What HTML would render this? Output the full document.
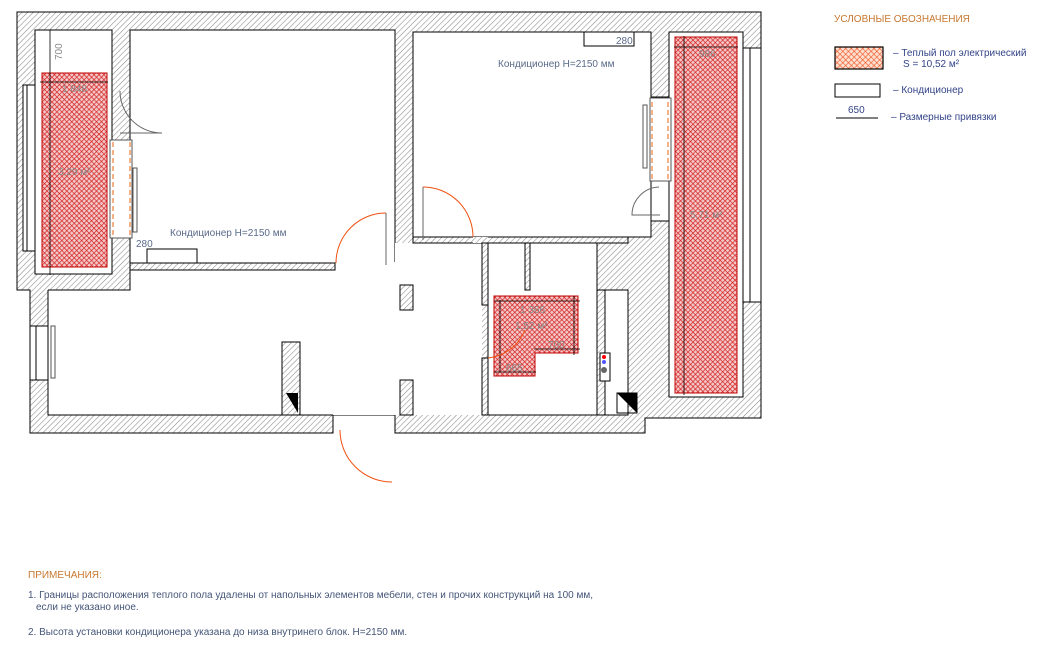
<!DOCTYPE html>
<html><head><meta charset="utf-8"><style>
html,body{margin:0;padding:0;background:#fff;}
svg{display:block;font-family:"Liberation Sans Narrow","Liberation Sans",sans-serif;}
</style></head><body>
<svg width="1050" height="648" viewBox="0 0 1050 648" xmlns="http://www.w3.org/2000/svg">
<defs>
<pattern id="h" width="4" height="4" patternUnits="userSpaceOnUse" patternTransform="rotate(45)">
<rect width="4" height="4" fill="#fff"/><line x1="0" y1="0" x2="0" y2="4" stroke="#888" stroke-width="1.1"/></pattern>
<pattern id="r" width="3.5" height="3.5" patternUnits="userSpaceOnUse" patternTransform="rotate(45)">
<rect width="3.5" height="3.5" fill="#f2c8c8"/><line x1="0" y1="0" x2="0" y2="3.5" stroke="#d41818" stroke-width="1.3"/><line x1="0" y1="0" x2="3.5" y2="0" stroke="#d41818" stroke-width="1.3"/></pattern>
<pattern id="o" width="4" height="4" patternUnits="userSpaceOnUse" patternTransform="rotate(45)">
<rect width="4" height="4" fill="#fde0d0"/><line x1="0" y1="0" x2="0" y2="4" stroke="#f05020" stroke-width="1.2"/><line x1="0" y1="0" x2="4" y2="0" stroke="#f05020" stroke-width="1.2"/></pattern>
</defs>
<g stroke="#000" stroke-width="1">
<polygon fill="url(#h)" points="17,12 761,12 761,418 645,418 645,433 395,433 395,415 333,415 333,433 30,433 30,290 17,290"/>
<rect x="35" y="30" width="77" height="244" fill="#fff"/>
<rect x="130" y="30" width="265" height="233" fill="#fff"/>
<rect x="413" y="32" width="238" height="205" fill="#fff"/>
<rect x="48" y="290" width="285" height="125" fill="#fff" stroke="none"/>
<rect x="130" y="270" width="270" height="25" fill="#fff" stroke="none"/>
<rect x="333" y="262" width="62" height="153" fill="#fff" stroke="none"/>
<rect x="395" y="243" width="87" height="172" fill="#fff" stroke="none"/>
<path d="M48,290 L48,415 L333,415 M130,270 L130,290 L48,290" fill="none"/>
<rect x="488" y="243" width="109" height="172" fill="#fff"/>
<rect x="605" y="290" width="23" height="125" fill="#fff"/>
<rect x="669" y="32" width="74" height="365" fill="#fff"/>
<rect x="130" y="263" width="205" height="7" fill="url(#h)"/>
<rect x="413" y="237" width="215" height="6" fill="url(#h)"/>
<rect x="473" y="237" width="15" height="6" fill="url(#h)" stroke="none"/>
<rect x="482" y="243" width="6" height="62" fill="url(#h)"/>
<rect x="482" y="358" width="6" height="57" fill="url(#h)"/>
<rect x="525" y="243" width="5" height="47" fill="url(#h)"/>
<rect x="597" y="290" width="8" height="125" fill="url(#h)"/>
<rect x="400" y="285" width="13" height="25" fill="url(#h)"/>
<rect x="400" y="380" width="13" height="35" fill="url(#h)"/>
<rect x="282" y="342" width="18" height="73" fill="url(#h)"/>
<rect x="651" y="97" width="18" height="124" fill="#fff"/>
<rect x="23" y="85" width="12" height="166" fill="#fff"/>
<line x1="27" y1="85" x2="27" y2="251"/>
<rect x="30" y="326" width="18" height="54" fill="#fff"/>
<line x1="36" y1="326" x2="36" y2="380"/>
<rect x="743" y="48" width="18" height="254" fill="#fff"/>
<line x1="750" y1="48" x2="750" y2="302"/>
</g>
<g stroke="#c00000" stroke-width="1">
<rect x="42" y="73" width="65" height="194" fill="url(#r)"/>
<rect x="675" y="37" width="62" height="356" fill="url(#r)"/>
<polygon points="494,296 578,296 578,353 535,353 535,376 494,376" fill="url(#r)"/>
</g>
<g stroke="#000" stroke-width="0.8">
<line x1="50" y1="30" x2="50" y2="275"/><line x1="40" y1="82" x2="108" y2="82"/>
<line x1="684" y1="36" x2="684" y2="395"/><line x1="674" y1="47" x2="738" y2="47"/>
<line x1="500" y1="300" x2="500" y2="372"/><line x1="494" y1="301" x2="580" y2="301"/>
<line x1="574" y1="296" x2="574" y2="355"/><line x1="534" y1="349" x2="580" y2="349"/>
<line x1="494" y1="372" x2="536" y2="372"/>
</g>
<g stroke="#555" fill="#fff" stroke-width="1">
<rect x="110" y="140" width="22" height="98"/>
<rect x="133" y="168" width="4" height="64"/>
<rect x="650" y="98" width="21" height="83"/>
<rect x="643" y="105" width="4" height="63"/>
<rect x="51" y="326" width="4" height="52"/>
<rect x="147" y="249" width="50" height="14" stroke="#000"/>
<rect x="584" y="32" width="50" height="14" stroke="#000"/>
</g>
<g stroke="#f06010" stroke-width="1" stroke-dasharray="5,3" fill="none">
<line x1="113" y1="142" x2="113" y2="237"/><line x1="130" y1="142" x2="130" y2="237"/>
<line x1="652" y1="102" x2="652" y2="180"/><line x1="668" y1="102" x2="668" y2="180"/>
</g>
<g fill="none" stroke-width="1">
<path d="M120,133 L162,133 A42,42 0 0 1 120,91" stroke="#666"/>
<path d="M386,213 A50,50 0 0 0 336,263" stroke="#f05010"/><line x1="386" y1="213" x2="386" y2="265" stroke="#666"/>
<path d="M423,187 A50,50 0 0 1 473,237" stroke="#f05010"/><line x1="423" y1="187" x2="423" y2="240" stroke="#666"/>
<path d="M340,430 A52,52 0 0 0 392,482" stroke="#f05010"/>
<path d="M659,187 A28,28 0 0 0 632,215 L660,215" stroke="#666"/>
<path d="M488,358 A45,45 0 0 0 525,330" stroke="#f05010"/>
</g>
<polygon points="286,393 298,393 298,413" fill="#000"/>
<polygon points="617,393 637,393 637,413" fill="#000"/>
<rect x="617" y="393" width="20" height="20" fill="none" stroke="#000"/>
<rect x="600" y="353" width="10" height="28" fill="#fff" stroke="#000"/>
<circle cx="604" cy="357" r="2" fill="red"/><circle cx="604" cy="362" r="2" fill="#55f"/><circle cx="604" cy="370" r="3" fill="#666"/>
<g fill="#5a6a8a" font-size="10">
<text x="170" y="236">Кондиционер H=2150 мм</text>
<text x="498" y="67">Кондиционер H=2150 мм</text>
<text x="136" y="247">280</text><text x="616" y="44">280</text>
<text x="62" y="92" fill="#888">1 848</text>
<text x="58" y="175" fill="#888">3,29 м²</text>
<text x="699" y="57" fill="#888">986</text>
<text x="690" y="218" fill="#888">5,71 м²</text>
<text x="520" y="313" fill="#888">1 366</text>
<text x="515" y="329" fill="#888">1,52 м²</text>
<text x="548" y="348" fill="#888">700</text>
<text x="506" y="371" fill="#888">665</text>
<text transform="translate(62,60) rotate(-90)" fill="#888">700</text>
</g>
<g font-size="10" fill="#c87830">
<text x="834" y="22">УСЛОВНЫЕ ОБОЗНАЧЕНИЯ</text>
</g>
<rect x="835" y="47" width="48" height="22" fill="url(#o)" stroke="#000" stroke-width="1.2"/>
<rect x="835" y="84" width="45" height="13" fill="#fff" stroke="#000"/>
<line x1="836" y1="118" x2="878" y2="118" stroke="#000"/>
<g font-size="10" fill="#334488">
<text x="893" y="56">– Теплый пол  электрический</text>
<text x="903" y="67">S = 10,52 м²</text>
<text x="893" y="93">– Кондиционер</text>
<text x="848" y="113">650</text>
<text x="891" y="120">– Размерные привязки</text>
</g>
<g font-size="10" fill="#445577">
<text x="28" y="578" fill="#c87830">ПРИМЕЧАНИЯ:</text>
<text x="28" y="598">1. Границы расположения теплого пола удалены от напольных элементов мебели, стен и прочих конструкций на 100 мм,</text>
<text x="36" y="610">если не указано иное.</text>
<text x="28" y="635">2. Высота установки кондиционера указана до низа внутринего блок. H=2150 мм.</text>
</g>
</svg>
</body></html>
